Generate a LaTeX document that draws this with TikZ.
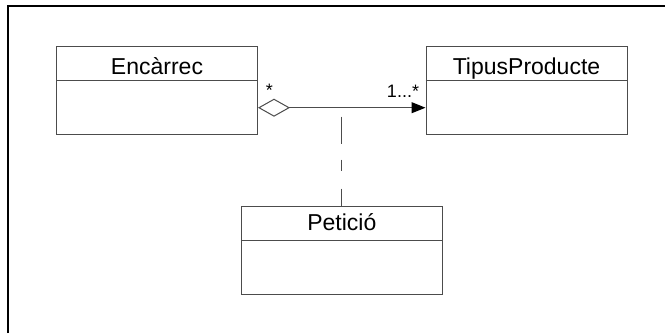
\documentclass[tikz,border=0pt]{standalone}
\usepackage{fontspec}
\setmainfont{Liberation Sans}
\usetikzlibrary{arrows.meta}
\begin{document}
\begin{tikzpicture}[x=1pt,y=-1pt,
  classbox/.style={draw=black!70,line width=1pt,minimum width=201pt,minimum height=88pt,inner sep=0pt},
  classname/.style={font=\fontsize{23}{27}\selectfont,inner sep=0pt,anchor=base},
  mult/.style={font=\fontsize{18}{20}\selectfont,inner sep=0pt,anchor=base},
  assoc/.style={draw=black!70,line width=1pt},
  hdr/.style={draw=black!70,line width=1pt}]
\useasboundingbox (0,0) rectangle (665,333);
% frame (left and top only)
\draw[line width=2pt] (7.5,333) -- (7.5,6) -- (665,6);
% classes
\node[classbox] (enc) at (157,90) {};
\node[classbox] (tip) at (526.5,90) {};
\node[classbox] (pet) at (341.8,250) {};
\draw[hdr] (enc.north west) ++(0,35) -- ++(201,0);
\draw[hdr] (tip.north west) ++(0,35) -- ++(201,0);
\draw[hdr] (pet.north west) ++(0,35) -- ++(201,0);
\node[classname] (encname) at (157,74) {Encàrrec};
\node[classname] (tipname) at (526.5,74) {TipusProducte};
\node[classname] (petname) at (341.8,230) {Petició};
% association
\coordinate (aL) at (enc.east |- 0,107.7);
\coordinate (aR) at (tip.west |- 0,107.7);
\draw[assoc,
  {Diamond[open,length=32pt,width=18pt,line width=1pt]}-{Triangle[length=14pt,width=11pt,fill=black,color=black]}]
  (aL) -- (aR);
\coordinate (mid) at (341.5,107.7);
\draw[assoc,dash pattern=on 0pt off 9pt on 27pt off 16pt on 11pt off 18pt on 17pt]
  (mid) -- (mid |- pet.north);
% multiplicities
\node[mult] (m1) at (269.5,96) {*};
\node[mult] (m2) at (403,97) {1...*};
\end{tikzpicture}
\end{document}
